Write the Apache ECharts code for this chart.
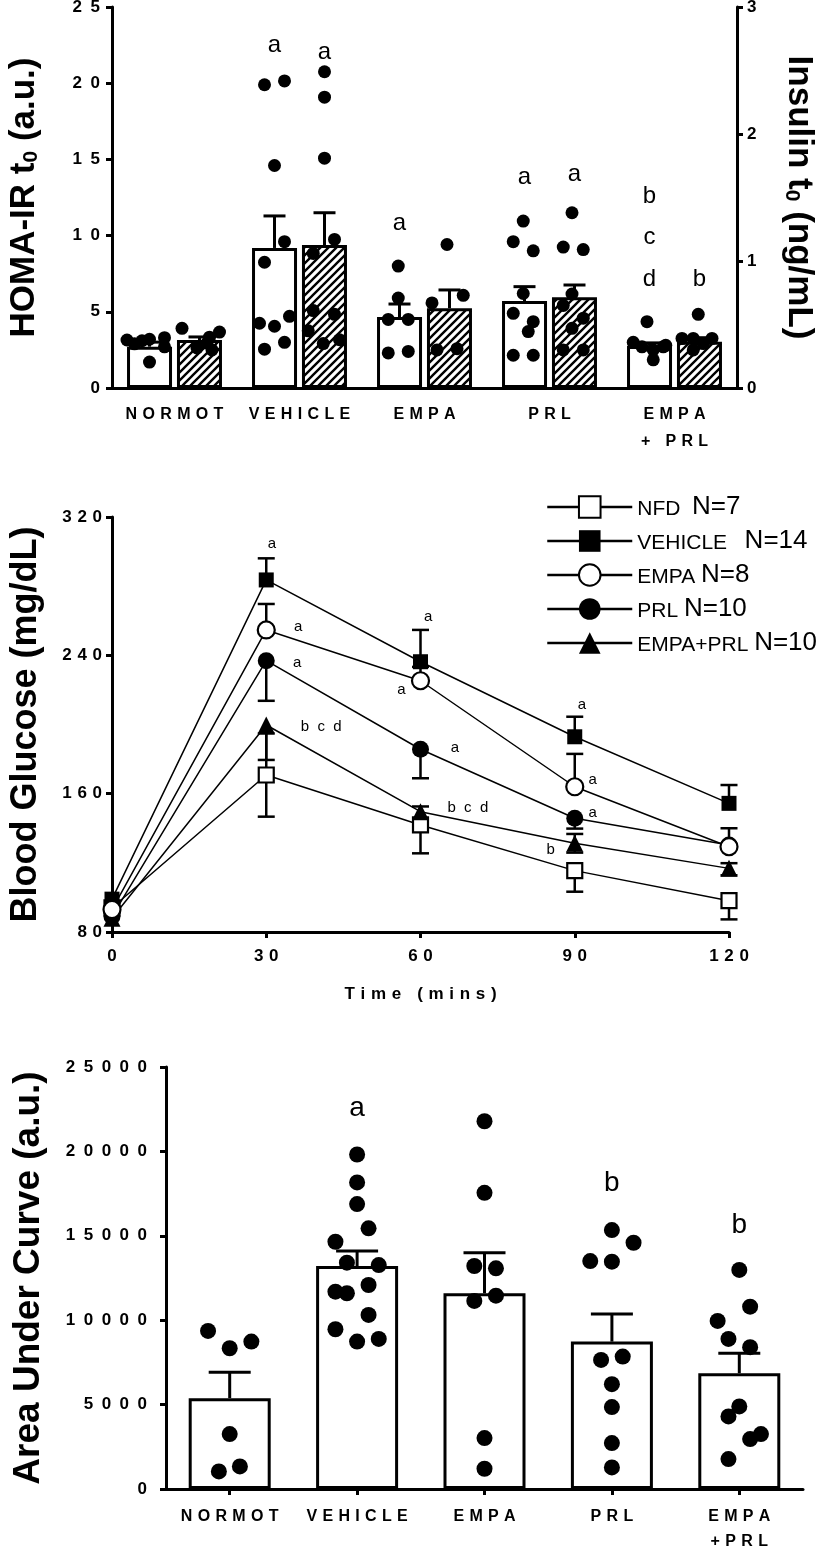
<!DOCTYPE html>
<html><head><meta charset="utf-8">
<script src="https://cdn.jsdelivr.net/npm/echarts@6/dist/echarts.min.js"></script>
<style>html,body{margin:0;padding:0;background:#fff}#c{width:819px;height:1548px}</style>
</head><body><div id="c"></div>
<script>
// ===== Panel 1: HOMA-IR (white, left axis) and insulin (hatched, right axis) =====
const topCats = ['NORMOT', 'VEHICLE', 'EMPA', 'PRL', 'EMPA\n+ PRL'];
const homaTicks = [0, 5, 10, 15, 20, 25];
const insulinTicks = [0, 1, 2, 3];
const homaMean = [2.71, 9.19, 4.66, 5.71, 2.76];
const homaSem = [0.30, 2.10, 0.85, 0.94, 0.20];
const insulinMean = [0.378, 1.126, 0.628, 0.714, 0.365];
const insulinSem = [0.024, 0.254, 0.144, 0.097, 0.031];
const homaDots = [
  [3.15, 2.9, 3.2, 1.7, 3.3, 2.7, 3.1],
  [19.9, 20.15, 14.6, 9.6, 8.25, 4.25, 4.05, 4.7, 2.55, 3.0],
  [8.0, 5.9, 4.5, 4.5, 2.3, 2.4],
  [10.95, 9.6, 9.0, 6.2, 4.9, 4.35, 3.7, 2.15, 2.15],
  [4.35, 3.0, 2.7, 2.5, 2.7, 1.85, 2.8]
];
const homaJitter = [
  [-0.18, -0.12, 0, 0, 0.12, 0.12, -0.06],
  [-0.08, 0.08, 0, 0.08, -0.08, -0.12, 0, 0.12, -0.08, 0.08],
  [-0.01, -0.01, -0.09, 0.07, -0.09, 0.07],
  [-0.01, -0.09, 0.07, -0.01, -0.09, 0.07, 0.03, -0.09, 0.07],
  [-0.02, -0.13, -0.06, 0.03, 0.11, 0.03, 0.13]
];
const insulinDots = [
  [0.47, 0.315, 0.354, 0.40, 0.44, 0.30],
  [2.49, 2.29, 1.81, 1.17, 1.06, 0.61, 0.58, 0.45, 0.35, 0.38],
  [1.13, 0.67, 0.73, 0.30, 0.31],
  [1.38, 1.11, 1.09, 0.74, 0.65, 0.55, 0.47, 0.30, 0.30],
  [0.58, 0.39, 0.39, 0.39, 0.35, 0.30]
];
const insulinJitter = [
  [-0.14, -0.02, 0.06, 0.08, 0.16, 0.10],
  [0, 0, 0, 0.08, -0.09, -0.09, 0.08, -0.13, -0.01, 0.12],
  [-0.02, -0.14, 0.11, -0.10, 0.06],
  [-0.02, -0.09, 0.07, -0.02, -0.09, 0.07, -0.02, -0.09, 0.07],
  [-0.01, -0.14, -0.05, 0.10, 0.03, -0.05]
];
const topLetterGroup = [1, 1, 2, 3, 3, 4, 4, 4, 4];
const topLetterSide = [-1, 1, -1, -1, 1, -1, -1, -1, 1];
const topLetterValue = [22.5, 22.0, 10.8, 13.8, 14.0, 12.6, 9.9, 7.1, 7.1];
const topLetterText = ['a', 'a', 'a', 'a', 'a', 'b', 'c', 'd', 'b'];

// ===== Panel 2: glucose tolerance curves =====
const times = [0, 30, 60, 90, 120];
const glucoseTicks = [80, 160, 240, 320];
const ogttNames = ['NFD', 'VEHICLE', 'EMPA', 'PRL', 'EMPA+PRL'];
const ogttN = ['N=7', 'N=14', 'N=8', 'N=10', 'N=10'];
const ogttNFD = [94, 170.8, 141.9, 115.5, 98.1];
const ogttVEH = [99, 283.6, 236.3, 192.9, 154.4];
const ogttEMPA = [93, 254.7, 225.3, 164.0, 129.3];
const ogttPRL = [89, 236.9, 185.7, 145.8, 130.3];
const ogttEP = [88, 199.7, 149.6, 131.3, 116.8];
const errUpNFD = [0, 24, 3, 0, 0],      errDnNFD = [0, 24.1, 16.4, 12.2, 10.8];
const errUpVEH = [0, 12.5, 18.4, 11.6, 10.6], errDnVEH = [0, 0, 0, 0, 0];
const errUpEMPA = [0, 15, 8, 19, 10.7], errDnEMPA = [0, 0, 0, 0, 0];
const errUpPRL = [0, 0, 0, 0, 0],       errDnPRL = [0, 23.2, 16.8, 6, 0];
const errUpEP = [0, 0, 3, 5.4, 3],      errDnEP = [0, 20.2, 5, 5.4, 4];
const ogttLetterTime = [31.1, 36.2, 36.0, 40.7, 61.5, 56.3, 66.7, 69.2, 91.4, 93.5, 93.5, 85.3];
const ogttLetterValue = [304.4, 256.6, 235.6, 198.6, 262.2, 220.0, 186.4, 151.7, 211.3, 167.9, 149.0, 127.4];
const ogttLetterText = ['a', 'a', 'a', 'b  c  d', 'a', 'a', 'a', 'b  c  d', 'a', 'a', 'a', 'b'];

// ===== Panel 3: area under curve =====
const aucCats = ['NORMOT', 'VEHICLE', 'EMPA', 'PRL', 'EMPA\n+PRL'];
const aucTicks = [0, 5000, 10000, 15000, 20000, 25000];
const aucMean = [5383, 13210, 11595, 8732, 6862];
const aucSem = [1538, 887, 2402, 1638, 1183];
const aucDots = [
  [9365, 8340, 8732, 3254, 1337, 1041],
  [19817, 18161, 16877, 15440, 14648, 13406, 13268, 12085, 11690, 11595, 10311, 9465, 8732, 8891],
  [21787, 17546, 13210, 13074, 11453, 11140, 3017, 1201],
  [15340, 14589, 13505, 13466, 7649, 7845, 6212, 4851, 2721, 1278],
  [12976, 10802, 9957, 8891, 8400, 4890, 4299, 3254, 2958, 1775]
];
const aucJitter = [
  [-0.17, 0, 0.17, 0, 0.08, -0.085],
  [0, 0, 0, 0.09, -0.17, -0.08, 0.17, 0.09, -0.17, -0.08, 0.09, -0.17, 0, 0.17],
  [0, 0, -0.08, 0.09, 0.09, -0.08, 0, 0],
  [0, 0.17, -0.17, 0, -0.085, 0.085, 0, 0, 0, 0],
  [0, 0.085, -0.17, -0.085, 0.085, 0, -0.085, 0.17, 0.085, -0.085]
];
const aucLetterGroup = [1, 3, 4];
const aucLetterValue = [22540, 18140, 15640];
const aucLetterText = ['a', 'b', 'b'];

// ===== styling helpers =====
const FONT = '"Liberation Sans", Arial, Helvetica, sans-serif';
const BLACK = '#000';
const EN = '\u2002', THIRD = '\u2004';
const BAR_SHIFT = 0.2;
const spaced = (s, sp) => String(s).split('\n').map(l => l.split('').join(sp)).join('\n');

function hatchCanvas() {
  const c = document.createElement('canvas');
  c.width = 8; c.height = 8;
  const g = c.getContext('2d');
  g.fillStyle = '#fff'; g.fillRect(0, 0, 8, 8);
  g.strokeStyle = '#000'; g.lineWidth = 2.4;
  g.beginPath();
  g.moveTo(-2, 10); g.lineTo(10, -2);
  g.moveTo(-2, 2); g.lineTo(2, -2);
  g.moveTo(6, 10); g.lineTo(10, 6);
  g.stroke();
  return c;
}
const HATCH = { image: hatchCanvas(), repeat: 'repeat' };

const axLine = { show: true, onZero: false, lineStyle: { color: BLACK, width: 3 } };
const axTick = len => ({ show: true, inside: false, length: len, lineStyle: { color: BLACK, width: 3 } });
const tickLabel = (sp, margin, extra) => Object.assign({
  color: BLACK, fontFamily: FONT, fontWeight: 'bold', fontSize: 17, margin: margin,
  formatter: v => spaced(v, sp)
}, extra || {});
const titleStyle = size => ({
  color: BLACK, fontFamily: FONT, fontWeight: 'bold', fontSize: size,
  rich: {
    t: { color: BLACK, fontFamily: FONT, fontWeight: 'bold', fontSize: size },
    s: { color: BLACK, fontFamily: FONT, fontWeight: 'bold', fontSize: Math.round(size * 0.6), verticalAlign: 'bottom' }
  }
});

function errorRenderer(capHalf, lw) {
  return function (params, api) {
    const x = api.value(0), m = api.value(1), up = api.value(2), dn = api.value(3);
    const top = api.coord([x, m + up]);
    const bot = api.coord([x, m - dn]);
    const st = { stroke: BLACK, lineWidth: lw };
    const ch = [];
    if (up > 0 || dn > 0) ch.push({ type: 'line', shape: { x1: top[0], y1: top[1], x2: bot[0], y2: bot[1] }, style: st });
    if (up > 0) ch.push({ type: 'line', shape: { x1: top[0] - capHalf, y1: top[1], x2: top[0] + capHalf, y2: top[1] }, style: st });
    if (dn > 0) ch.push({ type: 'line', shape: { x1: bot[0] - capHalf, y1: bot[1], x2: bot[0] + capHalf, y2: bot[1] }, style: st });
    return { type: 'group', children: ch };
  };
}
function errorSeries(xi, yi, data, capHalf, lw, z) {
  return { type: 'custom', xAxisIndex: xi, yAxisIndex: yi, z: z, silent: true, clip: false,
    data: data, encode: { x: 0, y: 1 }, renderItem: errorRenderer(capHalf, lw) };
}
function letterSeries(xi, yi, pts, texts, size) {
  return { type: 'custom', xAxisIndex: xi, yAxisIndex: yi, z: 20, silent: true, clip: false,
    data: pts, encode: { x: 0, y: 1 },
    renderItem: (params, api) => {
      const p = api.coord([api.value(0), api.value(1)]);
      return { type: 'text', x: p[0], y: p[1],
        style: { text: texts[params.dataIndex], fill: BLACK, fontFamily: FONT, fontSize: size,
                 align: 'center', verticalAlign: 'middle' } };
    } };
}
function dotSeries(xi, yi, dots, jitter, shift, size) {
  const data = [];
  dots.forEach((arr, i) => arr.forEach((v, k) => data.push([i + shift + jitter[i][k], v])));
  return { type: 'scatter', xAxisIndex: xi, yAxisIndex: yi, z: 6, silent: true,
    symbol: 'circle', symbolSize: size, itemStyle: { color: BLACK, opacity: 1 }, data: data };
}

// ===== glucose series =====
const ogttDefs = [
  { name: 'NFD', vals: ogttNFD, up: errUpNFD, dn: errDnNFD, symbol: 'rect', size: 15, fill: '#fff' },
  { name: 'VEHICLE', vals: ogttVEH, up: errUpVEH, dn: errDnVEH, symbol: 'rect', size: 15, fill: BLACK },
  { name: 'PRL', vals: ogttPRL, up: errUpPRL, dn: errDnPRL, symbol: 'circle', size: 17, fill: BLACK },
  { name: 'EMPA+PRL', vals: ogttEP, up: errUpEP, dn: errDnEP, symbol: 'triangle', size: 17, fill: BLACK },
  { name: 'EMPA', vals: ogttEMPA, up: errUpEMPA, dn: errDnEMPA, symbol: 'circle', size: 17, fill: '#fff' }
];
const ogttLines = ogttDefs.map(d => ({
  type: 'line', name: d.name, xAxisIndex: 2, yAxisIndex: 2, z: 5, clip: false,
  data: times.map((t, k) => [t, d.vals[k]]),
  symbol: d.symbol, symbolSize: d.size, showSymbol: true, silent: true,
  lineStyle: { color: BLACK, width: 1.5 },
  itemStyle: { color: d.fill, borderColor: BLACK, borderWidth: d.fill === '#fff' ? 2.2 : 0 },
  emphasis: { disabled: true }
}));
const ogttErr = [];
ogttDefs.forEach(d => times.forEach((t, k) => ogttErr.push([t, d.vals[k], d.up[k], d.dn[k]])));

const legendText = { 'NFD': 'NFD  ', 'VEHICLE': 'VEHICLE   ', 'EMPA': 'EMPA ', 'PRL': 'PRL ', 'EMPA+PRL': 'EMPA+PRL ' };

const option = {
  animation: false,
  backgroundColor: '#fff',
  textStyle: { fontFamily: FONT, color: BLACK },
  grid: [
    { left: 112, top: 7, width: 625, height: 381, outerBoundsMode: 'none', containLabel: false },
    { left: 112, top: 517, width: 617, height: 415, outerBoundsMode: 'none', containLabel: false },
    { left: 166, top: 1067, width: 637, height: 422, outerBoundsMode: 'none', containLabel: false }
  ],
  legend: {
    orient: 'vertical', left: 541, top: 489, itemWidth: 85, itemHeight: 27, itemGap: 8,
    selectedMode: false, data: ogttNames,
    formatter: name => `{s|${legendText[name]}}{n|${ogttN[ogttNames.indexOf(name)]}}`,
    lineStyle: { width: 2.5 },
    textStyle: { color: BLACK, fontFamily: FONT,
      rich: { s: { fontSize: 21, color: BLACK, fontFamily: FONT, verticalAlign: 'bottom' },
              n: { fontSize: 26, color: BLACK, fontFamily: FONT, verticalAlign: 'bottom' } } }
  },
  xAxis: [
    { type: 'category', gridIndex: 0, data: topCats, axisLine: axLine, axisTick: { show: false },
      splitLine: { show: false },
      axisLabel: { interval: 0, color: BLACK, fontFamily: FONT, fontWeight: 'bold', fontSize: 16,
                   margin: 13, lineHeight: 27, formatter: v => spaced(v, THIRD) } },
    { type: 'value', gridIndex: 0, min: -0.5, max: 4.5, show: false },
    { type: 'value', gridIndex: 1, min: 0, max: 120, interval: 30, axisLine: axLine, axisTick: axTick(6),
      splitLine: { show: false }, axisLabel: tickLabel(THIRD, 16),
      name: spaced('Time (mins)', THIRD), nameLocation: 'middle', nameGap: 54,
      nameTextStyle: { color: BLACK, fontFamily: FONT, fontWeight: 'bold', fontSize: 17 } },
    { type: 'category', gridIndex: 2, data: aucCats, axisLine: axLine,
      axisTick: { show: true, alignWithLabel: true, length: 6, lineStyle: { color: BLACK, width: 3 } },
      splitLine: { show: false },
      axisLabel: { interval: 0, color: BLACK, fontFamily: FONT, fontWeight: 'bold', fontSize: 16,
                   margin: 15, lineHeight: 25, formatter: v => spaced(v, THIRD) } },
    { type: 'value', gridIndex: 2, min: -0.5, max: 4.5, show: false }
  ],
  yAxis: [
    { type: 'value', gridIndex: 0, min: homaTicks[0], max: homaTicks[homaTicks.length - 1], interval: 5,
      axisLine: axLine, axisTick: axTick(6), splitLine: { show: false }, axisLabel: tickLabel(EN, 12),
      name: '{t|HOMA-IR t}{s|0}{t| (a.u.)}', nameLocation: 'middle', nameGap: 70, nameTextStyle: titleStyle(35) },
    { type: 'value', gridIndex: 0, position: 'right', min: insulinTicks[0], max: insulinTicks[insulinTicks.length - 1], interval: 1,
      axisLine: axLine, axisTick: axTick(6), splitLine: { show: false }, axisLabel: tickLabel(EN, 10),
      name: '{t|Insulin t}{s|0}{t| (ng/mL)}', nameLocation: 'middle', nameRotate: -90, nameGap: 44, nameTextStyle: titleStyle(35) },
    { type: 'value', gridIndex: 1, min: glucoseTicks[0], max: glucoseTicks[glucoseTicks.length - 1], interval: 80,
      axisLine: axLine, axisTick: axTick(6), splitLine: { show: false }, axisLabel: tickLabel(THIRD, 10),
      name: '{t|Blood Glucose (mg/dL)}', nameLocation: 'middle', nameGap: 68, nameTextStyle: titleStyle(36) },
    { type: 'value', gridIndex: 2, min: aucTicks[0], max: aucTicks[aucTicks.length - 1], interval: 5000,
      axisLine: axLine, axisTick: axTick(6), splitLine: { show: false }, axisLabel: tickLabel(EN, 19),
      name: '{t|Area Under Curve (a.u.)}', nameLocation: 'middle', nameGap: 119, nameTextStyle: titleStyle(37) }
  ],
  series: [
    // panel 1
    { type: 'bar', name: 'HOMA-IR', xAxisIndex: 0, yAxisIndex: 0, data: homaMean, barWidth: '36%', barGap: '11%', z: 2,
      silent: true, itemStyle: { color: '#fff', borderColor: BLACK, borderWidth: 3 } },
    { type: 'bar', name: 'Insulin', xAxisIndex: 0, yAxisIndex: 1, data: insulinMean, barWidth: '36%', barGap: '11%', z: 2,
      silent: true, itemStyle: { color: HATCH, borderColor: BLACK, borderWidth: 3 } },
    errorSeries(1, 0, homaMean.map((m, i) => [i - BAR_SHIFT, m, homaSem[i], 0]), 11, 3, 3),
    errorSeries(1, 1, insulinMean.map((m, i) => [i + BAR_SHIFT, m, insulinSem[i], 0]), 11, 3, 3),
    dotSeries(1, 0, homaDots, homaJitter, -BAR_SHIFT, 13),
    dotSeries(1, 1, insulinDots, insulinJitter, BAR_SHIFT, 13),
    letterSeries(1, 0, topLetterGroup.map((g, k) => [g + topLetterSide[k] * BAR_SHIFT, topLetterValue[k]]), topLetterText, 24),
    // panel 2
    errorSeries(2, 2, ogttErr, 8.5, 2.5, 3),
    ...ogttLines,
    letterSeries(2, 2, ogttLetterTime.map((t, k) => [t, ogttLetterValue[k]]), ogttLetterText, 15),
    // panel 3
    { type: 'bar', name: 'AUC', xAxisIndex: 3, yAxisIndex: 3, data: aucMean, barWidth: 82, z: 2, silent: true,
      itemStyle: { color: '#fff', borderColor: BLACK, borderWidth: 3 } },
    errorSeries(4, 3, aucMean.map((m, i) => [i, m, aucSem[i], 0]), 21, 3, 3),
    dotSeries(4, 3, aucDots, aucJitter, 0, 16),
    letterSeries(4, 3, aucLetterGroup.map((g, k) => [g, aucLetterValue[k]]), aucLetterText, 28)
  ]
};
const chart = echarts.init(document.getElementById('c'), null, { renderer: 'canvas', width: 819, height: 1548 });
chart.setOption(option);
</script></body></html>
